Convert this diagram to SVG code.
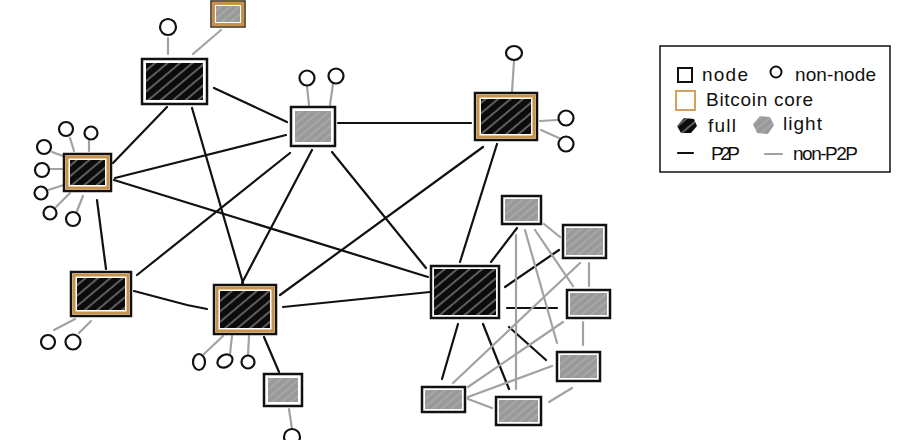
<svg xmlns="http://www.w3.org/2000/svg" width="903" height="440" viewBox="0 0 903 440">
<defs>
<pattern id="pf" patternUnits="userSpaceOnUse" width="8" height="8" patternTransform="rotate(-40)">
<rect width="8" height="8" fill="#0c0c0c"/>
<line x1="0" y1="4" x2="8" y2="4" stroke="#fff" stroke-width="0.9" stroke-opacity="0.75"/>
</pattern>
<pattern id="pl" patternUnits="userSpaceOnUse" width="6" height="6" patternTransform="rotate(-40)">
<rect width="6" height="6" fill="#999"/>
<line x1="0" y1="3" x2="6" y2="3" stroke="#bbb" stroke-width="0.8"/>
</pattern>
</defs>
<style>
.box{fill:#fff;stroke:#111;stroke-width:2.5}
.core{fill:none;stroke:#c8924a;stroke-width:3}
.full{fill:url(#pf)}
.light{fill:url(#pl)}
.p2p{stroke:#111;stroke-width:2.2;fill:none;stroke-linecap:round}
.np{stroke:#a2a2a2;stroke-width:2.2;fill:none;stroke-linecap:round}
.nn{fill:#fff;stroke:#111;stroke-width:2.2}
.lt{font-family:"Liberation Sans",Arial,sans-serif;font-size:19px;fill:#111}
</style>
<rect width="903" height="440" fill="#fff"/>

<g id="connectors">
<line class="p2p" x1="214" y1="88" x2="287" y2="122"/>
<line class="p2p" x1="113" y1="163" x2="167" y2="107"/>
<line class="p2p" x1="192" y1="108" x2="243" y2="283"/>
<line class="p2p" x1="115" y1="178" x2="286" y2="135"/>
<line class="p2p" x1="114" y1="180" x2="428" y2="277"/>
<line class="p2p" x1="97" y1="200" x2="106" y2="269"/>
<line class="p2p" x1="290" y1="153" x2="137" y2="275"/>
<line class="p2p" x1="312" y1="150" x2="242" y2="283"/>
<line class="p2p" x1="338" y1="123" x2="471" y2="123"/>
<line class="p2p" x1="332" y1="152" x2="426" y2="268"/>
<line class="p2p" x1="483" y1="147" x2="280" y2="295"/>
<line class="p2p" x1="497" y1="144" x2="460" y2="262"/>
<line class="p2p" x1="283" y1="307" x2="430" y2="292"/>
<polyline class="p2p" points="134,291 187,305 207,309"/>
<line class="p2p" x1="264" y1="337" x2="279" y2="372"/>
<line class="p2p" x1="491" y1="262" x2="517" y2="228"/>
<line class="p2p" x1="505" y1="287" x2="559" y2="250"/>
<line class="p2p" x1="507" y1="308" x2="557" y2="308"/>
<line class="p2p" x1="509" y1="327" x2="546" y2="360"/>
<line class="p2p" x1="458" y1="324" x2="442" y2="379"/>
<line class="p2p" x1="483" y1="324" x2="509" y2="389"/>

<line class="np" x1="544" y1="224" x2="560" y2="237"/>
<line class="np" x1="516" y1="235" x2="516" y2="389"/>
<line class="np" x1="525" y1="230" x2="557" y2="343"/>
<line class="np" x1="535" y1="230" x2="573" y2="286"/>
<line class="np" x1="589" y1="263" x2="589" y2="286"/>
<line class="np" x1="580" y1="263" x2="453" y2="383"/>
<line class="np" x1="583" y1="322" x2="583" y2="345"/>
<line class="np" x1="563" y1="322" x2="468" y2="387"/>
<line class="np" x1="552" y1="366" x2="468" y2="397"/>
<line class="np" x1="468" y1="399" x2="492" y2="408"/>
<line class="np" x1="572" y1="388" x2="549" y2="402"/>

<line class="np" x1="168" y1="38" x2="168" y2="54"/>
<line class="np" x1="193" y1="54" x2="221" y2="30"/>
<line class="np" x1="307" y1="86" x2="309" y2="105"/>
<line class="np" x1="333" y1="84" x2="330" y2="105"/>
<line class="np" x1="70" y1="138" x2="74" y2="151"/>
<line class="np" x1="89" y1="141" x2="89" y2="151"/>
<line class="np" x1="52" y1="152" x2="63" y2="156"/>
<line class="np" x1="50" y1="169" x2="62" y2="169"/>
<line class="np" x1="48" y1="190" x2="64" y2="185"/>
<line class="np" x1="56" y1="207" x2="70" y2="193"/>
<line class="np" x1="77" y1="211" x2="83" y2="196"/>
<line class="np" x1="514" y1="61" x2="512" y2="92"/>
<line class="np" x1="540" y1="121" x2="558" y2="120"/>
<line class="np" x1="541" y1="130" x2="559" y2="138"/>
<line class="np" x1="54" y1="330" x2="75" y2="319"/>
<line class="np" x1="79" y1="333" x2="91" y2="321"/>
<line class="np" x1="204" y1="354" x2="223" y2="336"/>
<line class="np" x1="230" y1="354" x2="232" y2="336"/>
<line class="np" x1="248" y1="355" x2="249" y2="336"/>
<line class="np" x1="289" y1="409" x2="292" y2="429"/>
</g>

<g id="nodeA"><rect class="box" x="142" y="59" width="65" height="45"/><rect class="full" x="146" y="63" width="57" height="37"/></g>
<g id="nodeB"><rect x="211" y="1" width="34" height="26" fill="#fff" stroke="#3a2a10" stroke-width="1.5"/><rect class="core" x="213.5" y="3.5" width="29" height="21"/><rect class="light" x="216" y="6" width="24" height="16"/></g>
<g id="nodeC"><rect class="box" x="291" y="107" width="44" height="39"/><rect class="light" x="295" y="111" width="36" height="31"/></g>
<g id="nodeD"><rect class="box" x="64" y="154" width="47" height="37"/><rect class="core" x="67" y="157" width="41" height="31"/><rect class="full" x="70" y="160" width="35" height="25"/></g>
<g id="nodeE"><rect class="box" x="475" y="93" width="62" height="47"/><rect class="core" x="478" y="96" width="56" height="41"/><rect class="full" x="481" y="99" width="50" height="35"/></g>
<g id="nodeF"><rect class="box" x="71" y="272" width="60" height="44"/><rect class="core" x="74" y="275" width="54" height="38"/><rect class="full" x="77" y="278" width="48" height="32"/></g>
<g id="nodeG"><rect class="box" x="214" y="285" width="62" height="49"/><rect class="core" x="217" y="288" width="56" height="43"/><rect class="full" x="220" y="291" width="50" height="37"/></g>
<g id="nodeH"><rect class="box" x="264" y="374" width="38" height="32"/><rect class="light" x="268" y="378" width="30" height="24"/></g>
<g id="nodeI"><rect class="box" x="431" y="266" width="68" height="52"/><rect class="full" x="434" y="269" width="62" height="46"/></g>
<g id="nodeJ"><rect class="box" x="502" y="196" width="39" height="28"/><rect class="light" x="505" y="199" width="33" height="22"/></g>
<g id="nodeK"><rect class="box" x="563" y="225" width="43" height="33"/><rect class="light" x="566" y="228" width="37" height="27"/></g>
<g id="nodeL"><rect class="box" x="567" y="290" width="43" height="28"/><rect class="light" x="570" y="293" width="37" height="22"/></g>
<g id="nodeM"><rect class="box" x="557" y="352" width="43" height="29"/><rect class="light" x="560" y="355" width="37" height="23"/></g>
<g id="nodeN"><rect class="box" x="422" y="387" width="43" height="25"/><rect class="light" x="425" y="390" width="37" height="19"/></g>
<g id="nodeO"><rect class="box" x="496" y="397" width="45" height="28"/><rect class="light" x="499" y="400" width="39" height="22"/></g>

<g id="nonnodes">
<circle class="nn" cx="168" cy="27" r="8"/>
<circle class="nn" cx="307" cy="78" r="7.5"/>
<circle class="nn" cx="336" cy="76" r="7.5"/>
<circle class="nn" cx="66" cy="129" r="7"/>
<circle class="nn" cx="91" cy="133" r="6.5"/>
<circle class="nn" cx="44" cy="147" r="7"/>
<circle class="nn" cx="42" cy="170" r="7"/>
<circle class="nn" cx="41" cy="193" r="6.5"/>
<circle class="nn" cx="50" cy="213" r="6.5"/>
<circle class="nn" cx="73" cy="219" r="7"/>
<ellipse class="nn" cx="514" cy="53" rx="8" ry="7"/>
<circle class="nn" cx="566" cy="118" r="7.5"/>
<circle class="nn" cx="566" cy="144" r="7.5"/>
<circle class="nn" cx="48" cy="342" r="7"/>
<circle class="nn" cx="73" cy="342" r="7.5"/>
<ellipse class="nn" cx="199" cy="362" rx="6" ry="8"/>
<ellipse class="nn" cx="225" cy="361" rx="8" ry="6" transform="rotate(-30 225 361)"/>
<circle class="nn" cx="248" cy="362" r="6.5"/>
<circle class="nn" cx="292" cy="437" r="8"/>
</g>

<g id="legend">
<rect x="660" y="46" width="230" height="126" fill="#fff" stroke="#111" stroke-width="1.5"/>
<rect x="678" y="68" width="14" height="14" fill="none" stroke="#111" stroke-width="2"/>
<text class="lt" x="702" y="81" textLength="46">node</text>
<circle cx="776" cy="72" r="5.5" fill="none" stroke="#111" stroke-width="2"/>
<text class="lt" x="795" y="81" textLength="81">non-node</text>
<rect x="676" y="91" width="19" height="19" fill="none" stroke="#d4a060" stroke-width="2"/>
<text class="lt" x="706" y="106" textLength="107">Bitcoin core</text>
<path d="M677,126 L684,118 L694,119 L697,126 L691,133 L681,133 Z" fill="url(#pf)"/>
<text class="lt" x="708" y="132" textLength="28">full</text>
<path d="M753,124 L760,116 L770,117 L774,125 L768,134 L757,133 Z" fill="url(#pl)"/>
<text class="lt" x="783" y="130" textLength="39">light</text>
<line class="p2p" x1="678" y1="153" x2="693" y2="153"/>
<text class="lt" x="711" y="160" textLength="29">P2P</text>
<line class="np" x1="765" y1="154" x2="782" y2="154"/>
<text class="lt" x="793" y="160" textLength="65">non-P2P</text>
</g>
</svg>
